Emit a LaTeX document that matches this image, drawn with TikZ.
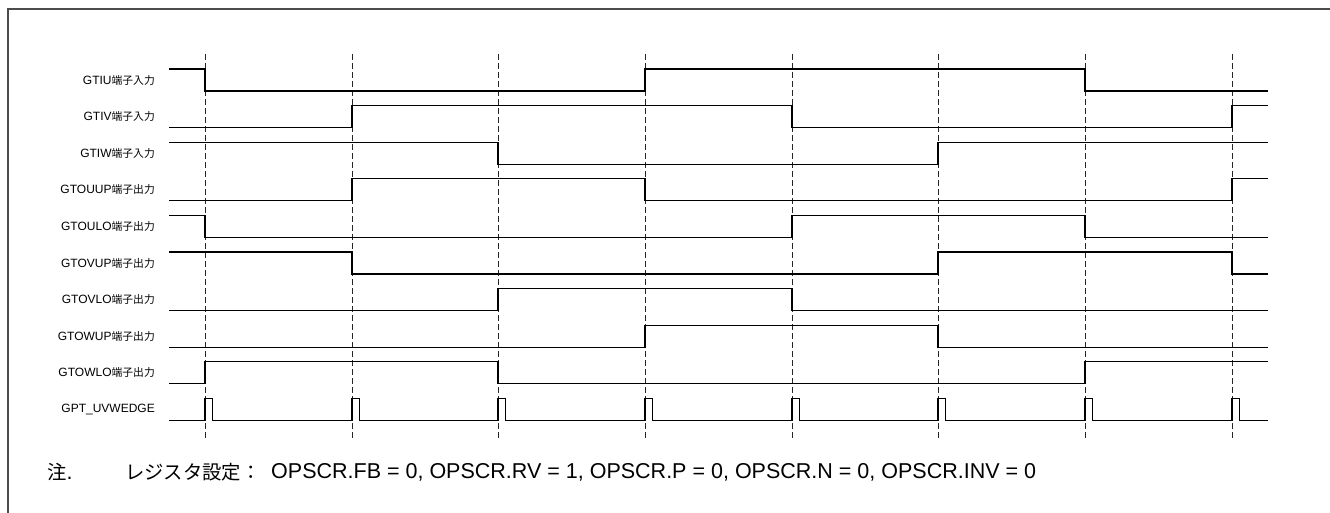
\documentclass[tikz,border=0pt]{standalone}
\usepackage{fontspec}
\setmainfont{Liberation Sans}
\newfontfamily\jpfont[Scale=0.9]{Noto Sans CJK JP}
\newcommand{\sigtxt}[2]{#1{\jpfont #2}}
\def\edges{205,352,498,645,792,938,1085,1232}
\tikzset{
  sig/.style={line width=1.2pt, line join=miter},
  guide/.style={black!85, line width=1pt, dash pattern=on 6pt off 3pt},
  siglabel/.style={anchor=east, inner sep=0pt, font=\fontsize{12}{14}\selectfont},
  notetxt/.style={anchor=west, inner sep=0pt, font=\fontsize{21.5}{24}\selectfont}
}
\begin{document}
\begin{tikzpicture}[x=1pt,y=-1pt]
  \useasboundingbox (0,0) rectangle (1330,513);
  % frame
  \draw[black!70, line width=1.5pt] (8,513) -- (8,9) -- (1330,9);

  % guide lines at every edge
  \foreach \e in \edges
    \draw[guide] (\e,54) -- (\e,438);

  % signal names
  \node[siglabel] (IU)   at (155,80)    {\sigtxt{GTIU}{端子入力}};
  \node[siglabel] (IV)   at (155,116.6) {\sigtxt{GTIV}{端子入力}};
  \node[siglabel] (IW)   at (155,153.2) {\sigtxt{GTIW}{端子入力}};
  \node[siglabel] (UUP)  at (155,189.8) {\sigtxt{GTOUUP}{端子出力}};
  \node[siglabel] (ULO)  at (155,226.4) {\sigtxt{GTOULO}{端子出力}};
  \node[siglabel] (VUP)  at (155,263)   {\sigtxt{GTOVUP}{端子出力}};
  \node[siglabel] (VLO)  at (155,299.6) {\sigtxt{GTOVLO}{端子出力}};
  \node[siglabel] (WUP)  at (155,336.2) {\sigtxt{GTOWUP}{端子出力}};
  \node[siglabel] (WLO)  at (155,372.8) {\sigtxt{GTOWLO}{端子出力}};
  \node[siglabel] (EDGE) at (155,409.4) {GPT\_UVWEDGE};

  % waveforms (0 = high, 22 = low)
  \begin{scope}[yshift=-69pt]
    \draw[sig] (169,0) -| (205,22) -| (645,0) -| (1085,22) -- (1268,22);
  \end{scope}
  \begin{scope}[yshift=-105.6pt]
    \draw[sig] (169,22) -| (352,0) -| (792,22) -| (1232,0) -- (1268,0);
  \end{scope}
  \begin{scope}[yshift=-142.2pt]
    \draw[sig] (169,0) -| (498,22) -| (938,0) -- (1268,0);
  \end{scope}
  \begin{scope}[yshift=-178.8pt]
    \draw[sig] (169,22) -| (352,0) -| (645,22) -| (1232,0) -- (1268,0);
  \end{scope}
  \begin{scope}[yshift=-215.4pt]
    \draw[sig] (169,0) -| (205,22) -| (792,0) -| (1085,22) -- (1268,22);
  \end{scope}
  \begin{scope}[yshift=-252pt]
    \draw[sig] (169,0) -| (352,22) -| (938,0) -| (1232,22) -- (1268,22);
  \end{scope}
  \begin{scope}[yshift=-288.6pt]
    \draw[sig] (169,22) -| (498,0) -| (792,22) -- (1268,22);
  \end{scope}
  \begin{scope}[yshift=-325.2pt]
    \draw[sig] (169,22) -| (645,0) -| (938,22) -- (1268,22);
  \end{scope}
  \begin{scope}[yshift=-361.8pt]
    \draw[sig] (169,22) -| (205,0) -| (498,22) -| (1085,0) -- (1268,0);
  \end{scope}
  \begin{scope}[yshift=-398.4pt]
    \draw[sig] (169,22) \foreach \e in \edges { -| (\e,0) -| (\e+7.5,22) } -- (1268,22);
  \end{scope}

  % note
  \node[notetxt] (N)   at (47,472)  {{\jpfont 注}.};
  \node[notetxt] (REG) at (125,472) {{\jpfont レジスタ設定：}};
  \node[notetxt] (VAL) at (271,472) {OPSCR.FB = 0, OPSCR.RV = 1, OPSCR.P = 0, OPSCR.N = 0, OPSCR.INV = 0};
\end{tikzpicture}
\end{document}
